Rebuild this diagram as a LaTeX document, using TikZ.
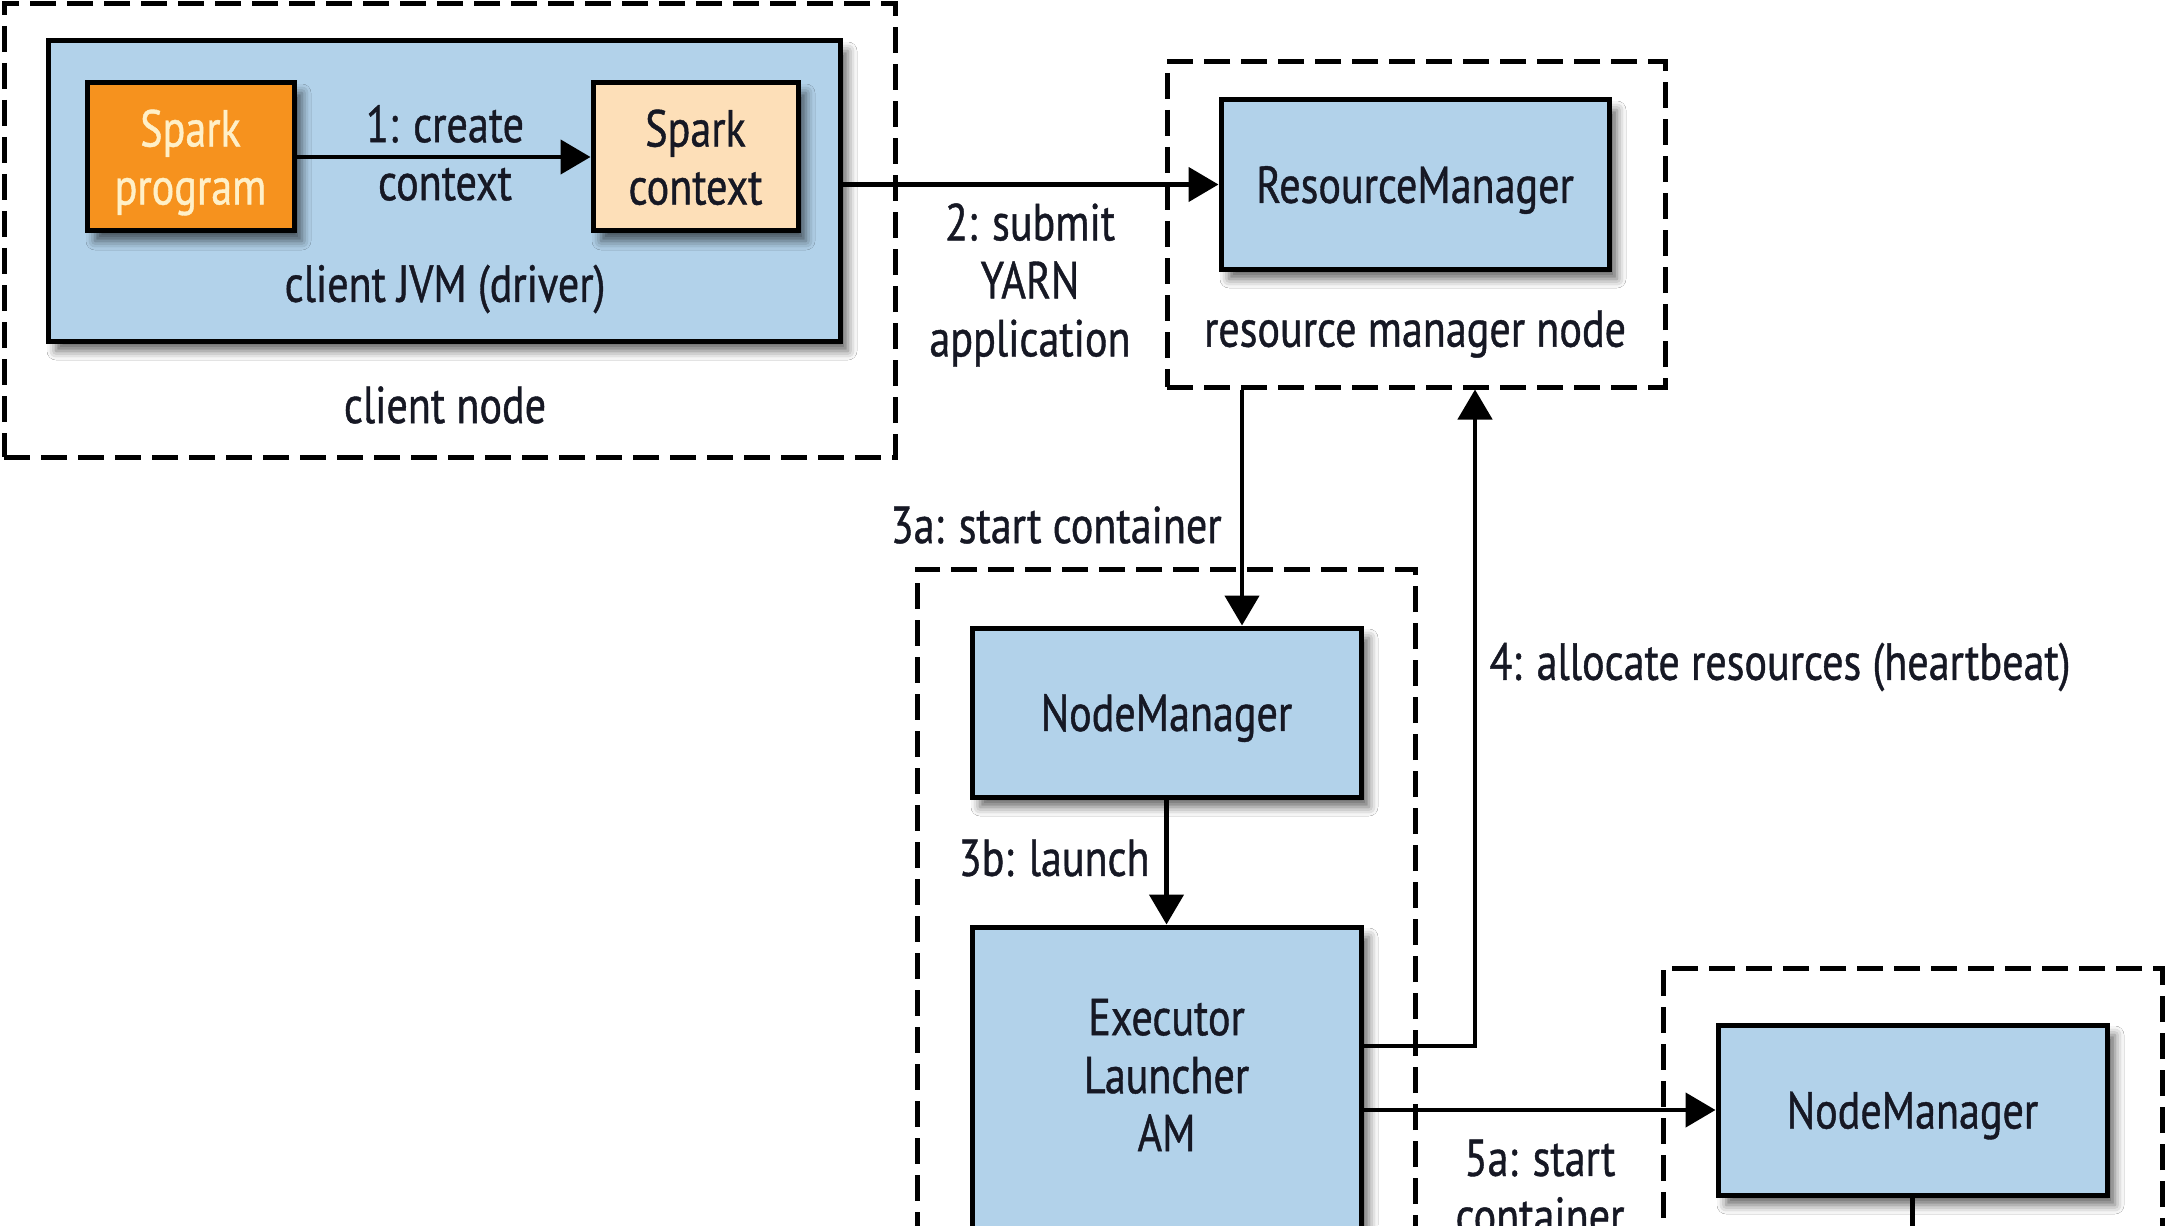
\documentclass[tikz,border=0pt]{standalone}
\usepackage{fontspec}
\setmainfont{PT Sans}[FakeStretch=0.81,FakeBold=0.8]
\usetikzlibrary{arrows.meta,shadows.blur,calc}
\definecolor{boxblue}{RGB}{178,210,234}
\definecolor{sparkorange}{RGB}{246,146,30}
\definecolor{peach}{RGB}{253,223,184}
\definecolor{cream}{RGB}{255,240,200}
\definecolor{ink}{RGB}{22,24,36}
\begin{document}
\begin{tikzpicture}[x=0.5pt,y=-0.5pt,
  every node/.style={font=\fontsize{26}{29}\selectfont, text=ink, inner sep=0pt},
  box/.style={draw=black, line width=2.5pt, fill=boxblue, align=center, text depth=0pt,
    blur shadow={shadow xshift=4pt, shadow yshift=-5pt, shadow blur radius=4.5pt, shadow opacity=60}},
  dashbox/.style={draw=black, line width=2.5pt, dash pattern=on 13pt off 5.5pt},
  arr/.style={draw=black, line width=2.3pt, -{Triangle[length=15pt,width=17pt]}},
  conn/.style={draw=black, line width=2.3pt},
  lbl/.style={align=center}]
\useasboundingbox (0,0) rectangle (2166,1225);
\fill[white] (0,0) rectangle (2166,1225);
\clip (0,0) rectangle (2166,1225);

% dashed containers
\node[dashbox, minimum width=445.5pt, minimum height=226.5pt] (cn) at (449.5,230.5) {};
\node[dashbox, minimum width=249pt, minimum height=162.5pt] (rmn) at (1416,224.5) {};
\node[dashbox, minimum width=249pt, minimum height=346pt] (mn) at (1166,915) {};
\node[dashbox, minimum width=249.5pt, minimum height=166pt] (rn) at (1912.5,1134) {};

% boxes
\node[box, minimum width=396pt, minimum height=150pt] (jvm) at (444,191) {};
\node[box, fill=sparkorange, text=cream, minimum width=103.5pt, minimum height=74pt] (sp) at (190.5,157) {Spark\\program};
\node[box, fill=peach, minimum width=102.5pt, minimum height=74pt] (sc) at (695.5,157) {Spark\\context};
\node[box, minimum width=194pt, minimum height=84.5pt] (rm) at (1415,184.5) {ResourceManager};
\node[box, minimum width=194.5pt, minimum height=84.5pt] (nm1) at (1166.5,712.5) {NodeManager};
\node[box, minimum width=194.5pt, minimum height=186.5pt] (ex) at (1166.5,1113.5) {};
\node[align=center] (extxt) at (1166.5,1075) {Executor\\Launcher\\AM};
\node[box, minimum width=194.5pt, minimum height=85pt] (nm2) at (1912.5,1110) {NodeManager};

% texts
\node[lbl] (t1) at (445,153) {1: create\\context};
\node (tjvm) at (445,289) {client JVM (driver)};
\node (tcn) at (445,405) {client node};
\node (trmn) at (1415,334) {resource manager node};
\node[lbl] (t2) at (1030,285) {2: submit\\YARN\\application};
\node[anchor=east] (t3a) at (1222,525) {3a: start container};
\node[anchor=east] (t3b) at (1150,858) {3b: launch};
\node[anchor=west] (t4) at (1489,667) {4: allocate resources (heartbeat)};
\node[lbl] (t5a) at (1540,1187) {5a: start\\container};

% coordinates
\coordinate (x3a) at (1242,0);
\coordinate (x4) at (1475,0);
\coordinate (y4) at (0,1046);
\coordinate (bot) at (0,1240);

% connectors
\draw[arr] (sp.east) -- (sc.west);
\draw[arr] (jvm.east |- rm.west) -- (rm.west);
\draw[arr] (rmn.south -| x3a) -- (nm1.north -| x3a);
\draw[arr] (nm1.south) -- (ex.north);
\draw[arr] (ex.east |- y4) -| (rmn.south -| x4);
\draw[arr] (ex.east |- nm2.west) -- (nm2.west);
\draw[conn] (nm2.south) -- (nm2.south |- bot);
\end{tikzpicture}
\end{document}
